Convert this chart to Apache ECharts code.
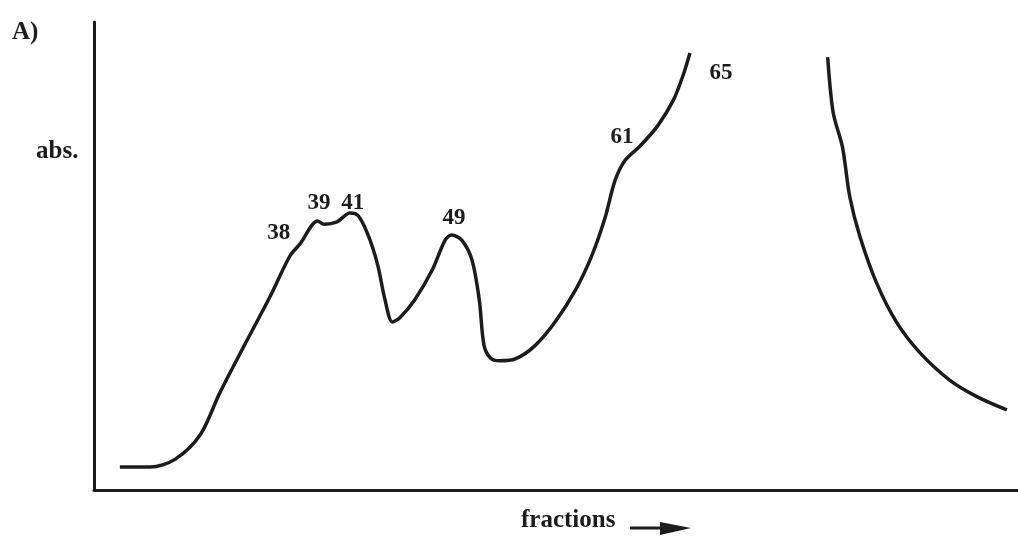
<!DOCTYPE html>
<html>
<head>
<meta charset="utf-8">
<script src="https://cdn.jsdelivr.net/npm/echarts@6/dist/echarts.min.js"></script>
<style>html,body{margin:0;padding:0;background:#fff}#c{width:1018px;height:542px}</style>
</head>
<body>
<div id="c"></div>
<script>
// Rising part of the profile (fractions axis in relative units 0-100, absorbance relative 0-100)
const curveA = [
  [2.8,4.9],[6.1,4.9],[8.8,6.6],[11.5,11.8],[13.6,20.7],[16.3,31.0],[19.1,41.5],[21.2,50.0],
  [22.3,52.6],[24.2,57.5],[24.9,56.8],[26.3,57.3],[27.7,59.2],[28.6,58.6],[29.7,54.3],
  [30.7,48.1],[31.5,40.6],[32.3,35.9],[33.1,36.8],[34.7,40.6],[36.6,47.0],[38.0,53.4],
  [38.7,54.5],[39.8,53.4],[40.9,49.2],[41.7,40.6],[42.2,31.0],[42.9,28.2],[43.9,27.6],
  [45.6,28.0],[47.7,30.8],[49.9,35.9],[52.1,42.7],[53.9,50.2],[55.3,58.1],[56.4,66.2],
  [57.5,70.5],[59.1,73.5],[61.0,77.8],[62.7,83.3],[63.7,88.3],[64.5,93.4]
];
// Descending part after the off-scale region
const curveB = [
  [79.4,92.5],[80.0,80.6],[81.0,73.3],[81.8,62.6],[82.9,54.1],[84.7,44.2],[86.9,35.7],
  [89.4,29.3],[92.6,23.5],[95.6,19.9],[98.8,17.1]
];
// Fraction number labels placed along the curve
const peakLabels = ['38','39','41','49','61','65'];
const peakX = [20.0,24.35,28.0,38.96,57.14,67.86];
const peakY = [54.9,61.3,61.3,58.1,75.4,89.1];

const chart = echarts.init(document.getElementById('c'), null, {renderer:'canvas'});
const FONT = '"Liberation Serif","Times New Roman",serif';
const lineStyle = {color:'#1c1c1c', width:3.5};
chart.setOption({
  animation:false,
  backgroundColor:'#ffffff',
  grid:{left:94, right:0, top:22, bottom:52},
  xAxis:{type:'value', min:0, max:100,
    axisLine:{show:true, lineStyle:{color:'#1c1c1c', width:3}},
    axisTick:{show:false}, axisLabel:{show:false}, splitLine:{show:false}},
  yAxis:{type:'value', min:0, max:100,
    axisLine:{show:true, lineStyle:{color:'#1c1c1c', width:3}},
    axisTick:{show:false}, axisLabel:{show:false}, splitLine:{show:false}},
  graphic:[
    {type:'text', left:12, top:20, style:{text:'A)', font:'bold 25px '+FONT, fill:'#1c1c1c'}},
    {type:'text', left:36, top:139, style:{text:'abs.', font:'bold 25px '+FONT, fill:'#1c1c1c'}},
    {type:'text', left:521, top:508, style:{text:'fractions', font:'bold 25px '+FONT, fill:'#1c1c1c'}},
    {type:'line', shape:{x1:630, y1:528, x2:664, y2:528}, style:{stroke:'#1c1c1c', lineWidth:3}},
    {type:'polygon', shape:{points:[[660,522],[691,528],[660,535]]}, style:{fill:'#1c1c1c'}}
  ],
  series:[
    {type:'line', data:curveA, smooth:0.3, showSymbol:false, lineStyle:lineStyle},
    {type:'line', data:curveB, smooth:0.3, showSymbol:false, lineStyle:lineStyle},
    {type:'scatter', symbolSize:0, itemStyle:{opacity:1},
      data: peakLabels.map((t,i)=>({value:[peakX[i],peakY[i]], name:t})),
      label:{show:true, position:'inside', formatter:p=>p.name, opacity:1,
        fontFamily:FONT, fontWeight:'bold', fontSize:23, color:'#1c1c1c'}}
  ]
});
</script>
</body>
</html>
